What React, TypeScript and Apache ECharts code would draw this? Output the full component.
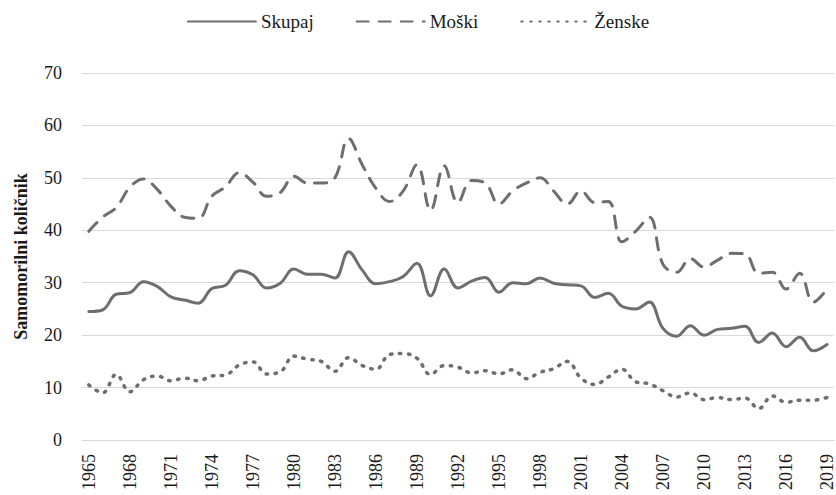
import React, { useEffect, useRef } from "react";
import * as echarts from "echarts";

const years: string[] = [];
for (let y = 1965; y <= 2019; y++) years.push(String(y));

const skupaj = [
  24.5, 24.8, 27.8, 28.1, 30.2, 29.3, 27.3, 26.7, 26.1, 28.9,
  29.5, 32.3, 31.5, 29.0, 29.9, 32.6, 31.6, 31.6, 30.9, 35.9,
  32.4, 29.8, 30.2, 31.2, 33.7, 27.5, 32.6, 29.0, 30.3, 31.0,
  28.2, 30.0, 29.8, 30.9, 29.9, 29.6, 29.4, 27.2, 28.0, 25.5,
  25.0, 26.3, 21.3, 19.8, 21.8, 20.0, 21.1, 21.3, 21.7, 18.6,
  20.4, 17.8, 19.6, 17.0, 18.2,
];

const moski = [
  39.8, 42.5, 44.3, 48.2, 49.8, 47.8, 44.6, 42.5, 42.3, 46.5,
  48.3, 51.0, 49.2, 46.5, 47.2, 50.3, 49.0, 49.0, 50.0, 57.5,
  52.5, 48.0, 45.5, 47.5, 52.5, 43.8, 52.3, 45.3, 49.5, 49.0,
  45.0, 47.5, 49.0, 50.0, 47.5, 45.0, 47.5, 45.3, 45.5, 37.8,
  39.8, 42.5, 33.5, 32.0, 34.6, 33.0, 34.3, 35.6, 35.5, 31.8,
  32.0, 28.8, 31.8, 26.3, 28.8,
];

const zenske = [
  10.5, 9.0, 12.5, 9.2, 11.5, 12.2, 11.3, 11.8, 11.3, 12.2,
  12.4, 14.3, 14.9, 12.6, 13.0, 16.0, 15.4, 15.0, 13.1, 15.7,
  14.2, 13.5, 16.3, 16.5, 15.6, 12.5, 14.2, 13.9, 12.8, 13.2,
  12.6, 13.4, 11.7, 12.9, 13.6, 15.0, 11.8, 10.6, 12.0, 13.5,
  11.1, 10.7, 9.4, 8.2, 9.0, 7.7, 8.1, 7.7, 8.0, 6.0,
  8.4, 7.2, 7.6, 7.6, 8.1,
];

const yTicks = { min: 0, max: 70, interval: 10 };

const FONT = "serif";
const LINE = "#6e6e6e";
const TEXT = "#1a1a1a";

export default function App() {
  const ref = useRef<HTMLDivElement>(null);
  useEffect(() => {
    if (!ref.current) return;
    const chart = echarts.init(ref.current, undefined, { renderer: "svg" });
    chart.setOption({
      animation: false,
      textStyle: { fontFamily: FONT },
      legend: {
        top: 7,
        left: "center",
        itemWidth: 68,
        itemHeight: 14,
        itemGap: 42,
        itemStyle: { opacity: 0, borderWidth: 0 },
        textStyle: { fontFamily: FONT, fontSize: 19, color: TEXT },
        data: ["Skupaj", "Moški", "Ženske"],
      },
      grid: { left: 82, right: 0, top: 73, bottom: 55 },
      xAxis: {
        type: "category",
        data: years,
        boundaryGap: true,
        axisLine: { show: true, lineStyle: { color: "#d9d9d9", width: 1 } },
        axisTick: { show: false },
        axisLabel: {
          interval: 2,
          rotate: 90,
          margin: 14,
          fontFamily: FONT,
          fontSize: 18,
          color: TEXT,
        },
      },
      yAxis: {
        type: "value",
        min: yTicks.min,
        max: yTicks.max,
        interval: yTicks.interval,
        name: "Samomorilni količnik",
        nameLocation: "middle",
        nameGap: 52,
        nameTextStyle: { fontFamily: FONT, fontSize: 18, fontWeight: "bold", color: TEXT },
        axisLine: { show: false },
        axisTick: { show: false },
        axisLabel: { margin: 20, fontFamily: FONT, fontSize: 18, color: TEXT },
        splitLine: { lineStyle: { color: "#d9d9d9", width: 1 } },
      },
      series: [
        {
          name: "Skupaj",
          type: "line",
          data: skupaj,
          smooth: 0.4,
          symbol: "none",
          lineStyle: { color: LINE, width: 3, cap: "round" },
          itemStyle: { color: LINE },
        },
        {
          name: "Moški",
          type: "line",
          data: moski,
          smooth: 0.4,
          symbol: "none",
          lineStyle: { color: LINE, width: 3, type: [12, 10], cap: "round" },
          itemStyle: { color: LINE },
        },
        {
          name: "Ženske",
          type: "line",
          data: zenske,
          smooth: 0.4,
          symbol: "none",
          lineStyle: { color: LINE, width: 3.5, type: [1.5, 7.5], cap: "round" },
          itemStyle: { color: LINE },
        },
      ],
    });
    return () => chart.dispose();
  }, []);
  return <div ref={ref} style={{ width: 836, height: 495, position: "absolute", left: 0, top: 0 }} />;
}
